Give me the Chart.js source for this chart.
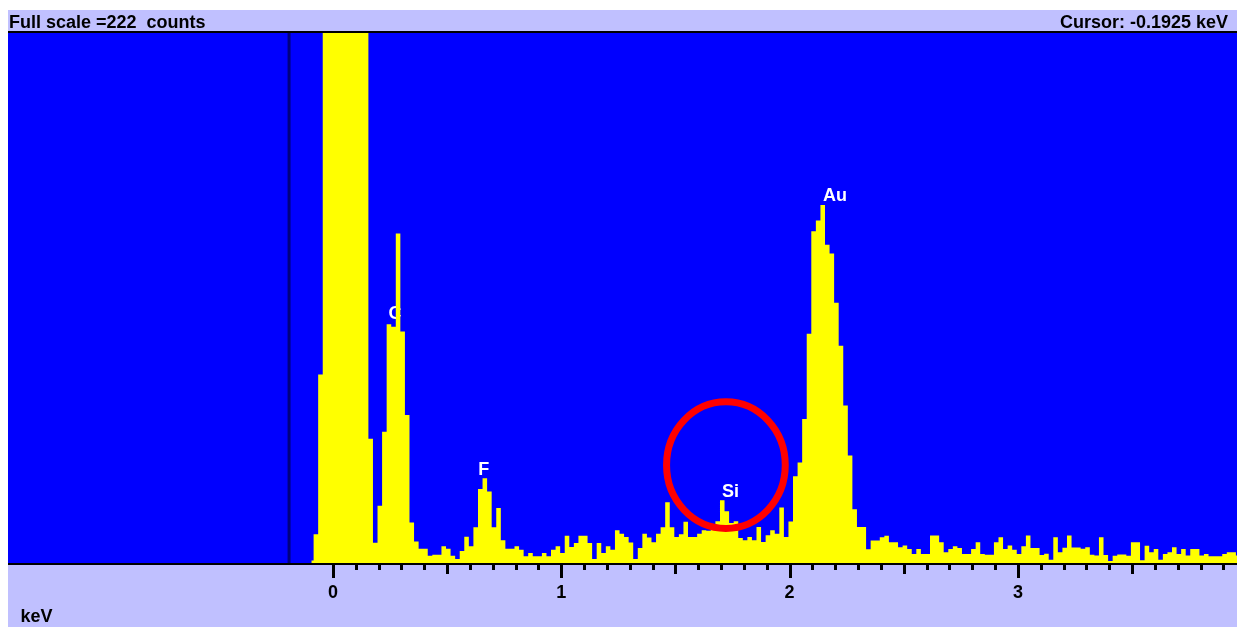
<!DOCTYPE html>
<html><head><meta charset="utf-8">
<script src="https://cdn.jsdelivr.net/npm/chart.js@4/dist/chart.umd.min.js"></script>
<style>html,body{margin:0;padding:0;background:#fff;overflow:hidden}canvas{display:block}</style>
</head><body>
<canvas id="c" width="1239" height="627"></canvas>
<script>
// ---- data ----
const FULL_SCALE = 222;          // counts
const CURSOR_KEV = -0.1925;
const X_MIN_KEV = -1.4236;
const X_MAX_KEV = 3.9597;
const FIRST_CHANNEL_KEV = -0.095; // centre of first drawn channel
const CHANNEL_WIDTH_KEV = 0.02;

const counts = [
  1, 12, 79, 222, 222, 222, 222, 222, 222, 222, 222, 222, 222,
  52, 8.5, 24, 55, 100, 99, 138, 97, 62, 17, 9, 6, 6, 3, 3.5, 3.5,
  7, 6, 3, 1.7, 5, 11, 7, 15, 31, 35.5, 30, 15, 23, 9.5, 6, 6,
  7, 5.6, 2.8, 4.2, 2.8, 2.8, 4.2, 2.8, 5.6, 7, 4.2, 11.4, 6.7, 8.4,
  11.4, 11.4, 8.4, 1.7, 8.4, 4.2, 7, 5.6, 13.7, 12.3, 10.9, 8.6, 1.7, 6.3,
  12.3, 10.7, 8.7, 12.3, 15, 25.4, 15, 10.9, 12, 17.3, 10.9, 10.9, 12.3, 13.7,
  13.5, 14.7, 17.5, 26.3, 21.7, 16.8, 17.5, 10.5, 9.5, 10.9, 9.5, 15.1, 8.8, 11.6,
  13.7, 12.3, 23.2, 10.9, 17.4, 36.3, 42.1, 60.3, 96, 139, 143.5, 150, 133.3, 129.6,
  109, 91, 66, 45, 22.5, 15.1, 15.1, 5.8, 9.4, 9.4, 10.8, 11.4, 8.7, 8.7,
  6.6, 7.3, 5.9, 3.8, 5.9, 3.8, 3.8, 11.5, 11.5, 8.7, 4.5, 5.9, 7, 6.3,
  3.8, 3.8, 5.9, 8.7, 3.8, 3.5, 3.5, 8.7, 10.8, 5.9, 7.3, 5.6, 3.8, 7,
  11.5, 6.3, 6.3, 3.3, 3.9, 1.4, 10.8, 4.5, 6.4, 11.5, 6.5, 6.5, 6, 6.6,
  3.5, 3.1, 10.8, 3.3, 0.8, 3, 3.6, 3.6, 3, 8.7, 8.7, 1.2, 7.2, 4.5,
  5.9, 1.4, 3.8, 4.5, 6.6, 3.8, 5.9, 3.1, 5.9, 5.9, 3.1, 3.8, 2.8, 2.8,
  2.8, 3.8, 4.5, 4.5, 3.1
];
const channelKeV = counts.map((_, i) => +(FIRST_CHANNEL_KEV + i * CHANNEL_WIDTH_KEV).toFixed(3));

const tickValues = [0, 1, 2, 3];
const tickLabels = ['0', '1', '2', '3'];
const AXIS_UNIT = 'keV';

const peakLabels = ['C', 'F', 'Si', 'Au'];
const peakLabelKeV = [0.271, 0.660, 1.741, 2.199];
const peakLabelCounts = [102, 37, 27.6, 151.5];

const markKeV = 1.721, markCounts = 41, markRxKeV = 0.26, markRyCounts = 26.5;

// ---- styling ----
const BLUE = '#0000ff', YELLOW = '#ffff00', LAV = '#c0c0ff';
const FONT = 'bold 18px "Liberation Sans", Arial, sans-serif';

const deco = {
  id: 'deco',
  beforeDraw(chart) {
    const { ctx, chartArea: a } = chart;
    ctx.save();
    ctx.fillStyle = '#ffffff';
    ctx.fillRect(0, 0, chart.width, chart.height);
    // top status bar
    ctx.fillStyle = LAV;
    ctx.fillRect(a.left, 10, a.right - a.left, a.top - 12);
    ctx.fillStyle = '#000';
    ctx.fillRect(a.left, a.top - 2, a.right - a.left, 2);
    // plot area
    ctx.fillStyle = BLUE;
    ctx.fillRect(a.left, a.top, a.right - a.left, a.bottom - a.top);
    // bottom axis bar
    ctx.fillStyle = '#000';
    ctx.fillRect(a.left, a.bottom, a.right - a.left, 2);
    ctx.fillStyle = LAV;
    ctx.fillRect(a.left, a.bottom + 2, a.right - a.left, chart.height - a.bottom - 2);
    // texts
    ctx.fillStyle = '#000';
    ctx.font = FONT;
    ctx.textBaseline = 'alphabetic';
    ctx.textAlign = 'left';
    ctx.fillText('Full scale =' + FULL_SCALE + '  counts', a.left + 1, 28);
    ctx.textAlign = 'right';
    ctx.fillText('Cursor: ' + CURSOR_KEV.toFixed(4) + ' keV', 1228, 28);
    // ticks
    const xs = chart.scales.x;
    for (let i = 0; i <= 39; i++) {
      const v = i / 10;
      const len = (i % 10 === 0) ? 13 : (i % 5 === 0 ? 9 : 5);
      const px = Math.round(xs.getPixelForValue(v));
      ctx.fillRect(px - 1, a.bottom + 2, 3, len);
    }
    ctx.textAlign = 'center';
    tickValues.forEach((v, i) => {
      ctx.fillText(tickLabels[i], xs.getPixelForValue(v), 597.5);
    });
    ctx.textAlign = 'left';
    ctx.fillText(AXIS_UNIT, 20.5, 621.5);
    // cursor line
    ctx.fillStyle = '#000080';
    const cx = xs.getPixelForValue(CURSOR_KEV);
    ctx.fillRect(cx - 1.5, a.top, 3, a.bottom - a.top);
    ctx.restore();
  },
  beforeDatasetsDraw(chart) {
    const { ctx } = chart;
    const xs = chart.scales.x, ys = chart.scales.y;
    ctx.save();
    ctx.fillStyle = '#ffffff';
    ctx.font = FONT;
    ctx.textAlign = 'center';
    ctx.textBaseline = 'alphabetic';
    peakLabels.forEach((t, i) => {
      ctx.fillText(t, xs.getPixelForValue(peakLabelKeV[i]), ys.getPixelForValue(peakLabelCounts[i]));
    });
    ctx.restore();
  },
  afterDatasetsDraw(chart) {
    const { ctx } = chart;
    const xs = chart.scales.x, ys = chart.scales.y;
    const cx = xs.getPixelForValue(markKeV), cy = ys.getPixelForValue(markCounts);
    const rx = xs.getPixelForValue(markKeV + markRxKeV) - cx;
    const ry = cy - ys.getPixelForValue(markCounts + markRyCounts);
    ctx.save();
    ctx.strokeStyle = '#ff0000';
    ctx.lineWidth = 7;
    ctx.beginPath();
    ctx.ellipse(cx, cy, rx, ry, 0, 0, Math.PI * 2);
    ctx.stroke();
    ctx.restore();
  }
};

new Chart(document.getElementById('c'), {
  type: 'line',
  data: {
    datasets: [{
      data: channelKeV.map((x, i) => ({ x, y: counts[i] })),
      stepped: 'middle',
      fill: 'origin',
      backgroundColor: YELLOW,
      borderColor: 'rgba(0,0,0,0)',
      borderWidth: 0,
      pointRadius: 0
    }]
  },
  options: {
    responsive: false,
    animation: false,
    devicePixelRatio: 1,
    layout: { padding: { left: 8, right: 2, top: 33, bottom: 64 } },
    plugins: { legend: { display: false }, tooltip: { enabled: false } },
    scales: {
      x: { type: 'linear', min: X_MIN_KEV, max: X_MAX_KEV, display: false },
      y: { min: 0, max: FULL_SCALE, display: false }
    }
  },
  plugins: [deco]
});
</script>
</body></html>
